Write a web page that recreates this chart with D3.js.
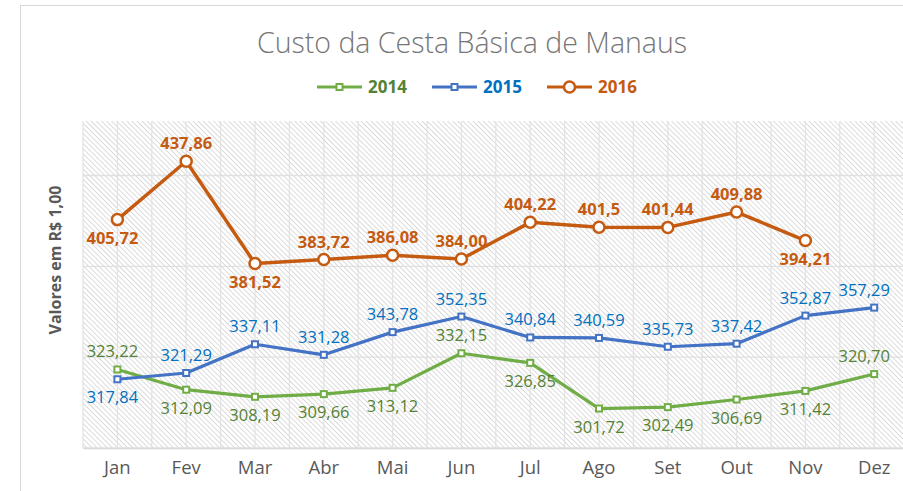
<!DOCTYPE html>
<html>
<head>
<meta charset="utf-8">
<script src="https://cdnjs.cloudflare.com/ajax/libs/d3/7.8.5/d3.min.js"></script>
<style>
  body { margin: 0; background: #fff; }
  svg { display: block; font-family: 'Open Sans', sans-serif; }
</style>
</head>
<body>
<div id="chart"></div>
<script>
// Data
const months = ['Jan', 'Fev', 'Mar', 'Abr', 'Mai', 'Jun', 'Jul', 'Ago', 'Set', 'Out', 'Nov', 'Dez'];
const values2014 = [323.22, 312.09, 308.19, 309.66, 313.12, 332.15, 326.85, 301.72, 302.49, 306.69, 311.42, 320.70];
const values2015 = [317.84, 321.29, 337.11, 331.28, 343.78, 352.35, 340.84, 340.59, 335.73, 337.42, 352.87, 357.29];
const values2016 = [405.72, 437.86, 381.52, 383.72, 386.08, 384.00, 404.22, 401.5, 401.44, 409.88, 394.21];
const labels2016 = ['405,72', '437,86', '381,52', '383,72', '386,08', '384,00', '404,22', '401,5', '401,44', '409,88', '394,21'];
const yTicks = [280, 330, 380, 430];

// label placement: a = above, b = below
const place2014 = ['a', 'b', 'b', 'b', 'b', 'a', 'b', 'b', 'b', 'b', 'b', 'a'];
const place2015 = ['b', 'a', 'a', 'a', 'a', 'a', 'a', 'a', 'a', 'a', 'a', 'a'];
const place2016 = ['b', 'a', 'b', 'a', 'a', 'a', 'a', 'a', 'a', 'a', 'b'];

const width = 903, height = 491;
const plot = {left: 83, top: 121, bottom: 448, band: 68.8};

const svg = d3.select('#chart').append('svg')
    .attr('width', width)
    .attr('height', height);

// hatch pattern for the plot area
const defs = svg.append('defs');
defs.append('pattern')
    .attr('id', 'hatch')
    .attr('patternUnits', 'userSpaceOnUse')
    .attr('width', 3.6)
    .attr('height', 3.6)
    .attr('patternTransform', 'rotate(-45)')
  .append('line')
    .attr('x1', 0.5).attr('y1', 0)
    .attr('x2', 0.5).attr('y2', 3.6)
    .attr('stroke', '#d6d6d6')
    .attr('stroke-width', 0.9);

// chart frame
svg.append('rect')
    .attr('x', 20.5).attr('y', 5.5)
    .attr('width', 900).attr('height', 500)
    .attr('fill', '#fff')
    .attr('stroke', '#d9d9d9');

const x = d3.scaleBand()
    .domain(months)
    .range([plot.left, plot.left + plot.band * months.length]);
const cx = m => x(m) + x.bandwidth() / 2;

const y = d3.scaleLinear()
    .domain([280, 460])
    .range([plot.bottom, plot.top]);

const g = svg.append('g');

g.append('rect')
    .attr('x', plot.left)
    .attr('y', plot.top)
    .attr('width', plot.band * months.length)
    .attr('height', plot.bottom - plot.top)
    .attr('fill', 'url(#hatch)');

// vertical gridlines: band edges and centers
const vLines = [];
months.forEach(m => { vLines.push(x(m)); vLines.push(cx(m)); });
g.selectAll('.vgrid').data(vLines).enter().append('line')
    .attr('class', 'vgrid')
    .attr('x1', d => d).attr('x2', d => d)
    .attr('y1', plot.top).attr('y2', plot.bottom)
    .attr('stroke', '#e3e3e3')
    .attr('stroke-width', 1.3);

// horizontal gridlines
g.selectAll('.hgrid').data(yTicks).enter().append('line')
    .attr('class', 'hgrid')
    .attr('x1', plot.left).attr('x2', width)
    .attr('y1', d => y(d)).attr('y2', d => y(d))
    .attr('stroke', '#e0e0e0')
    .attr('stroke-width', 1.3);

// x axis labels
const xAxis = d3.axisBottom(x).tickSize(0).tickPadding(13);
const xg = g.append('g')
    .attr('transform', 'translate(0,' + plot.bottom + ')')
    .call(xAxis);
xg.select('.domain').attr('stroke', '#d9d9d9').attr('stroke-width', 1.3);
xg.selectAll('text')
    .attr('fill', '#595959')
    .style('font-size', '18.5px')
    .style('font-family', "'Open Sans', sans-serif");

// title, y axis title
svg.append('text')
    .attr('x', 472).attr('y', 53)
    .attr('text-anchor', 'middle')
    .attr('fill', '#767676')
    .style('font-size', '28.5px')
    .style('font-weight', 300)
    .text('Custo da Cesta Básica de Manaus');

svg.append('text')
    .attr('transform', 'translate(61,260) rotate(-90)')
    .attr('text-anchor', 'middle')
    .attr('fill', '#595959')
    .style('font-size', '16px')
    .style('font-weight', 700)
    .text('Valores em R$ 1,00');

const series = [
  {name: '2014', values: values2014, place: place2014, line: '#70ad47', label: '#548235', weight: 400, marker: 'square',
   text: values2014.map(v => v.toFixed(2).replace('.', ','))},
  {name: '2015', values: values2015, place: place2015, line: '#4472c4', label: '#0070c0', weight: 400, marker: 'square',
   text: values2015.map(v => v.toFixed(2).replace('.', ','))},
  {name: '2016', values: values2016, place: place2016, line: '#c55a11', label: '#c55a11', weight: 700, marker: 'circle',
   text: labels2016}
];

const line = d3.line()
    .x((d, i) => cx(months[i]))
    .y(d => y(d));

function drawMarker(sel, s) {
  if (s.marker === 'circle') {
    sel.append('circle')
        .attr('r', 5.5)
        .attr('fill', '#fff')
        .attr('stroke', s.line)
        .attr('stroke-width', 2.5);
  } else {
    sel.append('rect')
        .attr('x', -3).attr('y', -3)
        .attr('width', 6).attr('height', 6)
        .attr('fill', '#fff')
        .attr('stroke', s.line)
        .attr('stroke-width', 2);
  }
}

series.forEach(s => {
  const sg = g.append('g').attr('class', 'series-' + s.name);
  sg.append('path')
      .attr('d', line(s.values))
      .attr('fill', 'none')
      .attr('stroke', s.line)
      .attr('stroke-width', s.marker === 'circle' ? 3.5 : 3.2)
      .attr('stroke-linejoin', 'round');

  s.values.forEach((v, i) => {
    const mg = sg.append('g')
        .attr('transform', 'translate(' + cx(months[i]) + ',' + y(v) + ')');
    drawMarker(mg, s);
  });

  sg.selectAll('.lbl').data(s.values).enter().append('text')
      .attr('class', 'lbl')
      .attr('x', (d, i) => cx(months[i]) + (i === 0 ? -5 : 0) + (i === 11 ? -10 : 0))
      .attr('y', (d, i) => y(d) + (s.place[i] === 'a' ? -12 : 24))
      .attr('text-anchor', 'middle')
      .attr('fill', s.label)
      .style('font-size', '16.5px')
      .style('font-weight', s.weight)
      .text((d, i) => s.text[i]);
});

// legend
const legendX = [317, 432, 547];
const legend = svg.append('g').attr('transform', 'translate(0,87)');
series.forEach((s, i) => {
  const lg = legend.append('g').attr('transform', 'translate(' + legendX[i] + ',0)');
  lg.append('line')
      .attr('x1', 0).attr('x2', 45)
      .attr('y1', 0).attr('y2', 0)
      .attr('stroke', s.line)
      .attr('stroke-width', 3.2);
  const mg = lg.append('g').attr('transform', 'translate(22.5,0)');
  drawMarker(mg, s);
  lg.append('text')
      .attr('x', 51).attr('y', 6)
      .attr('fill', s.label)
      .style('font-size', '17px')
      .style('font-weight', 700)
      .text(s.name);
});
</script>
</body>
</html>
